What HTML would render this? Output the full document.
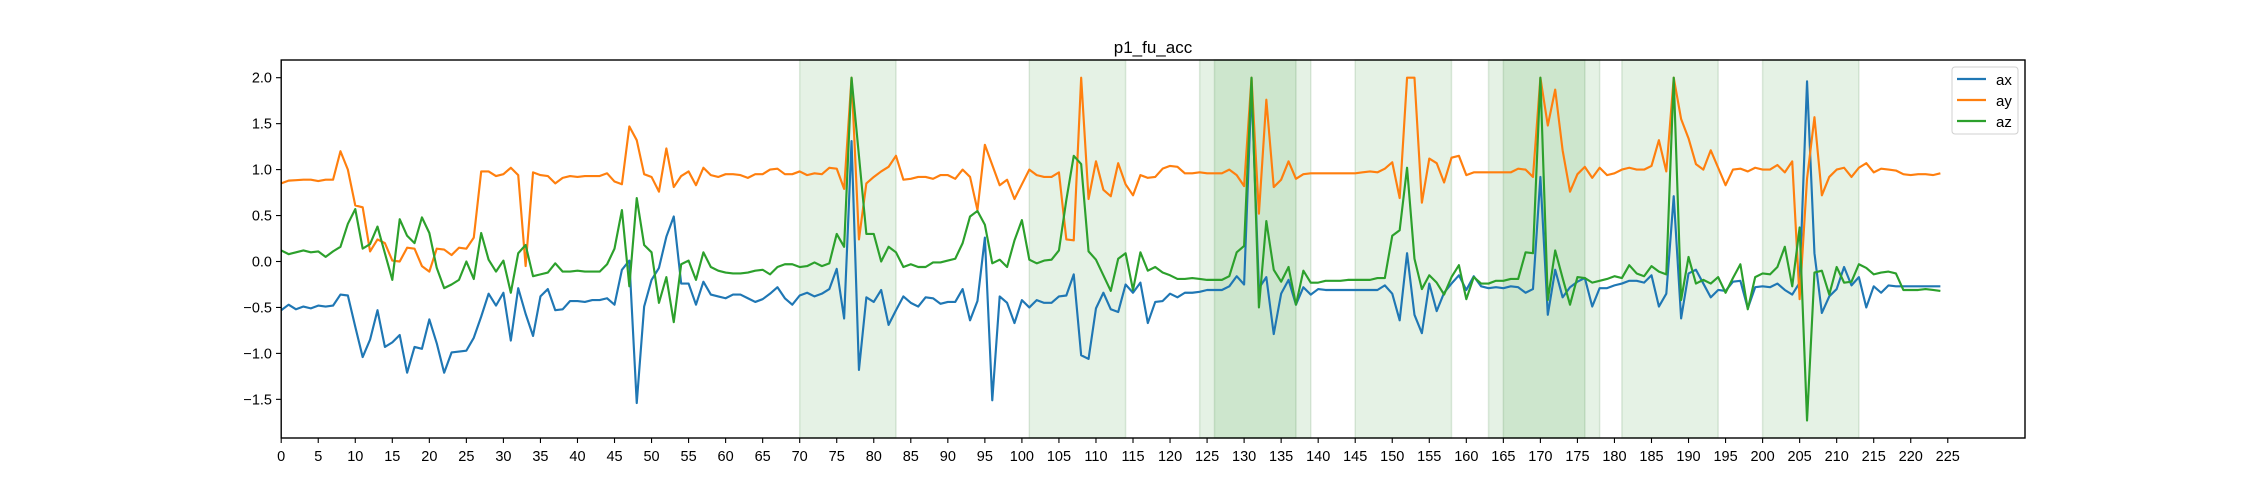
<!DOCTYPE html>
<html><head><meta charset="utf-8">
<style>
html,body{margin:0;padding:0;background:#fff;}
svg{display:block;font-family:"Liberation Sans","DejaVu Sans",sans-serif;}
</style></head>
<body>
<svg id="chart" width="2250" height="500" viewBox="0 0 2250 500" xmlns="http://www.w3.org/2000/svg">
<rect x="0" y="0" width="2250" height="500" fill="#fff"/>
<text x="1153" y="53" font-size="17" text-anchor="middle">p1_fu_acc</text>
<g id="spans"></g>
<g id="lines"></g>
<rect x="281.2" y="60" width="1743.8" height="378" fill="none" stroke="#000" stroke-width="1.4"/>
<g id="xaxis"></g>
<g id="yaxis"></g>
<g>
<rect x="1952" y="67" width="66" height="67" rx="3" fill="#fff" fill-opacity="0.8" stroke="#d0d0d0"/>
<line x1="1957" y1="79" x2="1986" y2="79" stroke="#1f77b4" stroke-width="2.2"/>
<text x="1996" y="85" font-size="15">ax</text>
<line x1="1957" y1="100" x2="1986" y2="100" stroke="#ff7f0e" stroke-width="2.2"/>
<text x="1996" y="106" font-size="15">ay</text>
<line x1="1957" y1="121" x2="1986" y2="121" stroke="#2ca02c" stroke-width="2.2"/>
<text x="1996" y="127" font-size="15">az</text>
</g>
</svg>
<script>
const ax = [-0.53,-0.47,-0.52,-0.49,-0.51,-0.48,-0.49,-0.48,-0.36,-0.37,
-0.71,-1.04,-0.85,-0.53,-0.93,-0.88,-0.80,-1.21,-0.93,-0.95,
-0.63,-0.89,-1.21,-0.99,-0.98,-0.97,-0.83,-0.60,-0.35,-0.48,
-0.34,-0.86,-0.29,-0.57,-0.81,-0.38,-0.30,-0.53,-0.52,-0.43,
-0.43,-0.44,-0.42,-0.42,-0.40,-0.47,-0.09,0.01,-1.54,-0.49,
-0.20,-0.07,0.27,0.49,-0.24,-0.24,-0.47,-0.22,-0.36,-0.38,
-0.40,-0.36,-0.36,-0.40,-0.44,-0.41,-0.35,-0.28,-0.40,-0.47,
-0.37,-0.34,-0.38,-0.35,-0.30,-0.08,-0.62,1.31,-1.18,-0.39,
-0.44,-0.31,-0.69,-0.53,-0.38,-0.45,-0.49,-0.39,-0.40,-0.46,
-0.44,-0.44,-0.30,-0.64,-0.43,0.26,-1.51,-0.38,-0.45,-0.67,
-0.42,-0.50,-0.42,-0.45,-0.45,-0.38,-0.37,-0.14,-1.02,-1.06,
-0.51,-0.34,-0.52,-0.55,-0.25,-0.34,-0.23,-0.67,-0.44,-0.43,
-0.35,-0.39,-0.34,-0.34,-0.33,-0.31,-0.31,-0.31,-0.27,-0.16,
-0.25,1.9,-0.29,-0.17,-0.79,-0.35,-0.20,-0.47,-0.28,-0.36,
-0.30,-0.31,-0.31,-0.31,-0.31,-0.31,-0.31,-0.31,-0.31,-0.26,
-0.35,-0.64,0.09,-0.58,-0.78,-0.24,-0.54,-0.34,-0.24,-0.15,
-0.31,-0.16,-0.27,-0.29,-0.28,-0.29,-0.27,-0.28,-0.34,-0.30,
0.92,-0.58,-0.09,-0.39,-0.28,-0.22,-0.18,-0.49,-0.29,-0.29,
-0.26,-0.24,-0.21,-0.21,-0.23,-0.15,-0.49,-0.35,0.71,-0.62,
-0.13,-0.09,-0.24,-0.39,-0.31,-0.32,-0.22,-0.21,-0.51,-0.28,
-0.27,-0.28,-0.24,-0.31,-0.36,-0.23,1.96,0.09,-0.56,-0.38,
-0.30,-0.06,-0.26,-0.17,-0.50,-0.27,-0.34,-0.26,-0.27,-0.27,
-0.27,-0.27,-0.27,-0.27,-0.27];
const ay = [0.85,0.88,0.885,0.89,0.89,0.875,0.89,0.89,1.20,1.00,
0.61,0.59,0.11,0.24,0.20,0.01,0.00,0.15,0.14,-0.05,
-0.11,0.14,0.13,0.07,0.15,0.14,0.26,0.98,0.98,0.93,
0.95,1.02,0.94,-0.05,0.97,0.94,0.93,0.85,0.91,0.93,
0.92,0.93,0.93,0.93,0.96,0.87,0.84,1.47,1.32,0.95,
0.92,0.76,1.23,0.81,0.93,0.98,0.83,1.02,0.94,0.92,
0.95,0.95,0.94,0.91,0.95,0.95,1.00,1.01,0.95,0.95,
0.98,0.94,0.96,0.95,1.02,1.01,0.79,2.0,0.24,0.85,
0.92,0.98,1.03,1.15,0.89,0.90,0.92,0.92,0.90,0.94,
0.94,0.90,1.00,0.92,0.56,1.27,1.05,0.83,0.89,0.68,
0.84,1.00,0.94,0.92,0.92,0.97,0.24,0.23,2.0,0.68,
1.09,0.78,0.71,1.07,0.84,0.72,0.94,0.91,0.92,1.01,
1.04,1.03,0.96,0.96,0.97,0.96,0.96,0.96,1.00,0.94,
0.82,2.0,0.52,1.76,0.81,0.89,1.09,0.90,0.95,0.96,
0.96,0.96,0.96,0.96,0.96,0.96,0.97,0.98,0.97,1.01,
1.08,0.69,2.0,2.0,0.64,1.12,1.07,0.86,1.13,1.15,
0.94,0.97,0.97,0.97,0.97,0.97,0.97,1.01,1.00,0.92,
2.0,1.48,1.87,1.21,0.76,0.95,1.03,0.91,1.02,0.94,
0.96,1.00,1.02,1.00,1.00,1.04,1.32,0.98,2.0,1.55,
1.34,1.06,1.00,1.21,1.02,0.83,1.00,1.01,0.98,1.02,
1.00,1.00,1.05,0.97,1.09,-0.41,0.90,1.57,0.72,0.92,
1.00,1.02,0.92,1.02,1.07,0.97,1.01,1.00,0.99,0.95,
0.94,0.95,0.95,0.94,0.96];
const az = [0.12,0.08,0.10,0.12,0.10,0.11,0.05,0.11,0.16,0.41,
0.57,0.14,0.19,0.38,0.09,-0.20,0.46,0.28,0.20,0.48,
0.31,-0.07,-0.29,-0.25,-0.20,0.00,-0.19,0.31,0.02,-0.11,
0.01,-0.34,0.09,0.18,-0.16,-0.14,-0.12,-0.02,-0.11,-0.11,
-0.10,-0.11,-0.11,-0.11,-0.03,0.14,0.56,-0.27,0.69,0.18,
0.10,-0.45,-0.17,-0.66,-0.03,0.01,-0.20,0.10,-0.06,-0.10,
-0.12,-0.13,-0.13,-0.12,-0.10,-0.09,-0.14,-0.06,-0.03,-0.03,
-0.06,-0.05,-0.01,-0.05,-0.02,0.30,0.16,2.0,1.15,0.30,
0.30,0.00,0.16,0.10,-0.06,-0.03,-0.06,-0.06,-0.01,-0.01,
0.01,0.03,0.20,0.49,0.55,0.40,-0.02,0.02,-0.06,0.23,
0.45,0.02,-0.02,0.01,0.02,0.12,0.67,1.15,1.06,0.11,
0.02,-0.15,-0.32,0.03,0.09,-0.31,0.10,-0.10,-0.06,-0.12,
-0.15,-0.19,-0.19,-0.18,-0.19,-0.20,-0.20,-0.20,-0.16,0.10,
0.17,2.0,-0.50,0.44,-0.09,-0.22,-0.06,-0.47,-0.10,-0.23,
-0.23,-0.21,-0.21,-0.21,-0.20,-0.20,-0.20,-0.20,-0.18,-0.18,
0.28,0.34,1.02,0.03,-0.30,-0.15,-0.23,-0.36,-0.17,-0.04,
-0.41,-0.17,-0.24,-0.24,-0.21,-0.21,-0.19,-0.19,0.10,0.09,
2.0,-0.42,0.12,-0.18,-0.47,-0.17,-0.18,-0.23,-0.21,-0.19,
-0.16,-0.18,-0.04,-0.13,-0.16,-0.05,-0.11,-0.14,2.0,-0.42,
0.05,-0.24,-0.20,-0.24,-0.17,-0.34,-0.18,-0.03,-0.52,-0.17,
-0.13,-0.14,-0.06,0.16,-0.27,0.37,-1.73,-0.12,-0.10,-0.36,
-0.06,-0.23,-0.22,-0.03,-0.07,-0.14,-0.12,-0.11,-0.13,-0.31,
-0.31,-0.31,-0.30,-0.31,-0.32];
const spanStarts = [70,101,124,126,145,163,165,181,200];
const spanEnds   = [83,114,139,137,158,178,176,194,213];
const xTicks = [0,5,10,15,20,25,30,35,40,45,50,55,60,65,70,75,80,85,90,95,100,105,110,115,120,125,130,135,140,145,150,155,160,165,170,175,180,185,190,195,200,205,210,215,220,225];
const yTicks = [-1.5,-1.0,-0.5,0.0,0.5,1.0,1.5,2.0];
const yTickLabels = ["\u22121.5","\u22121.0","\u22120.5","0.0","0.5","1.0","1.5","2.0"];

const NS = "http://www.w3.org/2000/svg";
const X0 = 281.2, PX = 7.407, Y0 = 261.5, PY = 91.9;
function xs(v){ return X0 + v*PX; }
function ys(v){ return Y0 - v*PY; }
function mk(tag, attrs, parent){
  const e = document.createElementNS(NS, tag);
  for (const k in attrs) e.setAttribute(k, attrs[k]);
  parent.appendChild(e);
  return e;
}
const spansG = document.getElementById('spans');
for (let i=0;i<spanStarts.length;i++){
  const r = mk('rect', {x: xs(spanStarts[i]), y: 60, width: xs(spanEnds[i]) - xs(spanStarts[i]), height: 378, fill: 'rgba(0,128,0,0.1)', stroke: 'rgba(0,90,0,0.12)', 'stroke-width': 1.5}, spansG);
  
  
}
const linesG = document.getElementById('lines');
const series = [[ax,'#1f77b4','line-ax'],[ay,'#ff7f0e','line-ay'],[az,'#2ca02c','line-az']];
series.forEach(s => {
  const pts = s[0].map((v,i) => xs(i).toFixed(2)+','+ys(v).toFixed(2)).join(' ');
  const p = mk('polyline', {points: pts, fill: 'none', stroke: s[1], 'stroke-width': 2.15, 'stroke-linejoin': 'round'}, linesG);
  
  
});
const xg = document.getElementById('xaxis');
xTicks.forEach(t => {
  const l = mk('line', {x1: xs(t), y1: 438, x2: xs(t), y2: 443, stroke: '#000', 'stroke-width': 1.1}, xg);
  
  
  const tx = mk('text', {x: xs(t), y: 461, 'font-size': 14.5, 'text-anchor': 'middle'}, xg);
  tx.textContent = String(t);
  
  
});
const yg = document.getElementById('yaxis');
yTicks.forEach((t,i) => {
  const l = mk('line', {x1: 276, y1: ys(t), x2: 281.2, y2: ys(t), stroke: '#000', 'stroke-width': 1.1}, yg);
  
  
  const tx = mk('text', {x: 272, y: ys(t)+5, 'font-size': 14.5, 'text-anchor': 'end'}, yg);
  tx.textContent = yTickLabels[i];
  
  
});
</script>
</body></html>
